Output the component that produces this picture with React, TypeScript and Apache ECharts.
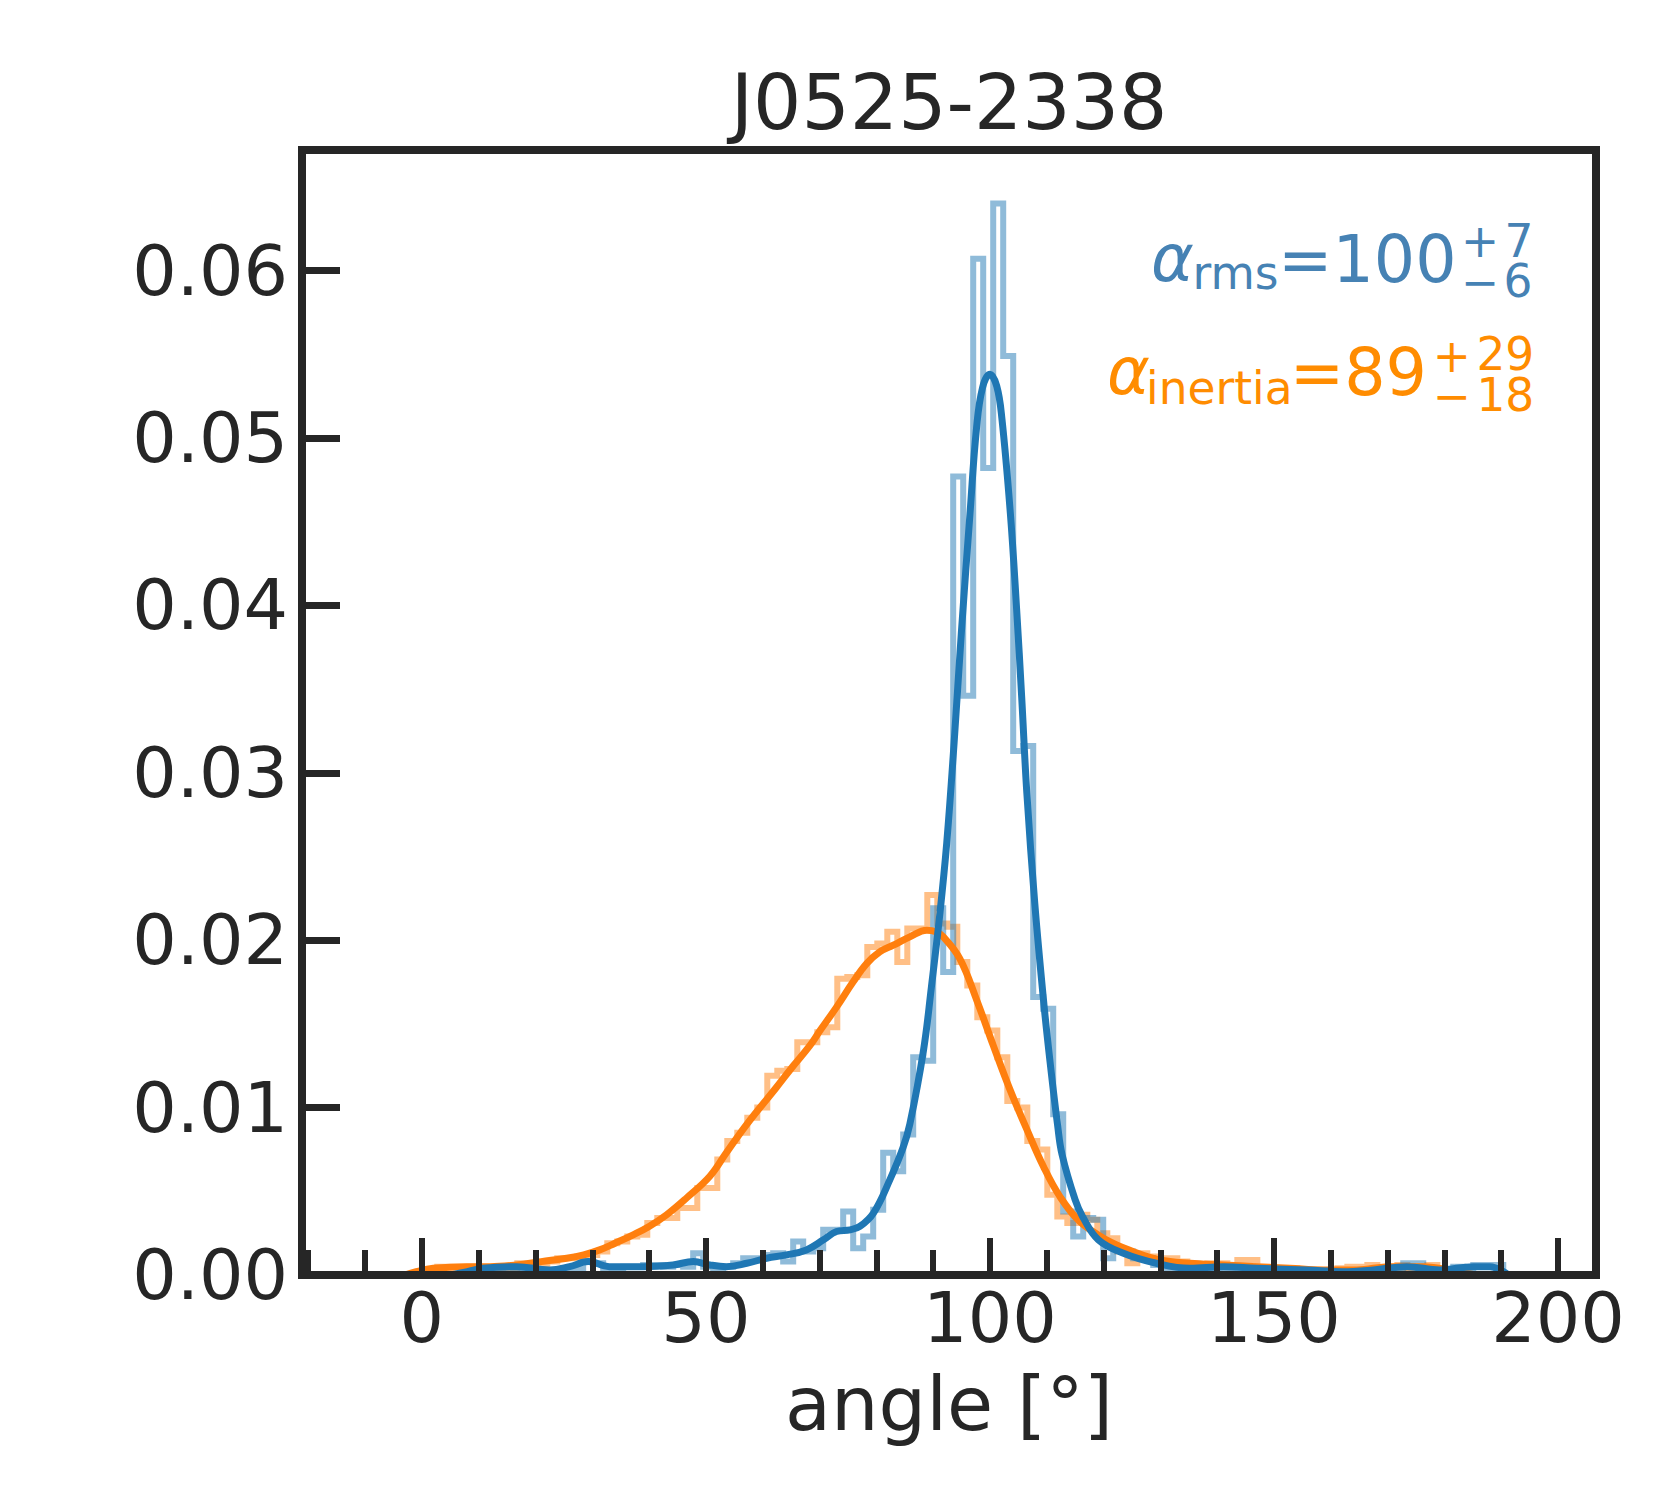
import React, { useEffect, useRef } from "react";
import * as echarts from "echarts";

const TITLE = "J0525-2338";
const X_LABEL = "angle [°]";
const X_MAJOR = [0, 50, 100, 150, 200];
const X_MINOR = [-20, -10, 10, 20, 30, 40, 60, 70, 80, 90, 110, 120, 130, 140, 160, 170, 180, 190];
const Y_TICKS = [0, 0.01, 0.02, 0.03, 0.04, 0.05, 0.06];

const BIN_WIDTH = 1.7606;

// alpha_rms histogram (density), bins of BIN_WIDTH starting at RMS_START
const RMS_START = 7.27;
const RMS_HIST = [
  0.0001, 0.0001, 0.0001, 0.0002, 0.0001, 0.0002, 0.0002, 0.0003, 0.0003, 0.0002,
  0.0004, 0.0004, 0.0008, 0.0007, 0.0003, 0.0003, 0.0005, 0.0005, 0.0006, 0.0006,
  0.0005, 0.0006, 0.0005, 0.0013, 0.0005, 0.0004, 0.0005, 0.0007, 0.001, 0.001,
  0.0012, 0.0013, 0.0008, 0.002, 0.0014, 0.0016, 0.0027, 0.0027, 0.0038, 0.0016,
  0.0023, 0.0039, 0.0073, 0.0062, 0.0084, 0.013, 0.0128, 0.0219, 0.0181,
  0.0477, 0.0346, 0.0607, 0.0482, 0.064, 0.0549, 0.0313, 0.0316, 0.0166, 0.0159, 0.0096,
  0.0038, 0.0023, 0.0034, 0.0033, 0.001, 0.0015, 0.0014, 0.001, 0.001, 0.0006,
  0.0004, 0.0003, 0.0003, 0.0003, 0.0002, 0.0002, 0.0003, 0.0001, 0.0002, 0.0001,
  0.0002, 0.0001, 0.0001, 0.0002, 0.0001, 0.0002, 0.0001, 0.0001, 0.0002, 0.0001,
  0.0001, 0.0002, 0.0002, 0.0003, 0.0007, 0.0007, 0.0002, 0.0002, 0.0003, 0.0005,
  0.0004, 0.0006, 0.0006, 0.0006,
];

// alpha_inertia histogram
const INERTIA_START = -0.81;
const INERTIA_HIST = [
  0.0001, 0.0003, 0.0005, 0.0005, 0.0005, 0.0005, 0.0004, 0.0003, 0.0003, 0.0004,
  0.0007, 0.0006, 0.0006, 0.0008, 0.001, 0.001, 0.0011, 0.0012, 0.0014, 0.0019,
  0.002, 0.0023, 0.0024, 0.0031, 0.0034, 0.0034, 0.004, 0.004, 0.0052, 0.0052,
  0.0069, 0.008, 0.0085, 0.0094, 0.01, 0.0119, 0.0122, 0.0123, 0.0139, 0.0139,
  0.0145, 0.0148, 0.0177, 0.0178, 0.0179, 0.0196, 0.0198, 0.0205, 0.0187, 0.0207,
  0.0207, 0.0227, 0.021, 0.0208, 0.0187, 0.0173, 0.0154, 0.0146, 0.013, 0.0104,
  0.01, 0.008, 0.0075, 0.0048, 0.0035, 0.0031, 0.0036, 0.0033, 0.0025, 0.0022,
  0.0014, 0.0007, 0.0013, 0.0011, 0.001, 0.001, 0.0008, 0.0006, 0.0006, 0.0007,
  0.0007, 0.0005, 0.0009, 0.0009, 0.0005, 0.0004, 0.0004, 0.0004, 0.0003, 0.0002,
  0.0002, 0.0003, 0.0004, 0.0005, 0.0005, 0.0006, 0.0003, 0.0005, 0.0006, 0.0004,
  0.0005, 0.0006,
];

// KDE curves
const RMS_KDE_X = [
  4.9, 8, 10.8, 16.7, 22.5, 26, 29.3, 33, 39, 44.2, 47.8, 50.7, 53.6, 57.2, 60.7, 64.2,
  67.7, 70.7, 73.0, 75.4, 77.1, 79.5, 82.4, 84.7, 85.9, 88.3, 89.7, 91.2, 92.4,
  93.7, 95.0, 96.5, 97.65, 98.7, 100.0, 101.2, 102.1, 103.6, 104.7, 105.6, 106.5, 107.9,
  109.5, 110.7, 111.9, 112.7, 115.0, 116.3, 119.1, 123.5, 129.3, 135.2, 141.1, 146.9,
  155.8, 162, 167.5, 173.4, 179.2, 185.1, 188, 191.3,
];
const RMS_KDE_Y = [
  0, 0.0002, 0.0004, 0.0005, 0.0003, 0.0005, 0.0008, 0.0005, 0.0005, 0.0006, 0.0008,
  0.0006, 0.0005, 0.0007, 0.001, 0.0012, 0.0015, 0.0021, 0.0026, 0.0027, 0.0029, 0.0037,
  0.0057, 0.0076, 0.009, 0.0134, 0.0172, 0.0216, 0.0258, 0.0318, 0.0385, 0.0455,
  0.0506, 0.053, 0.0538, 0.0531, 0.0512, 0.0455, 0.0398, 0.0345, 0.0288, 0.0222,
  0.0162, 0.0124, 0.009, 0.0072, 0.0045, 0.0035, 0.0021, 0.0013, 0.0007, 0.0004,
  0.0005, 0.0004, 0.0003, 0.0002, 0.0003, 0.0005, 0.0003, 0.0005, 0.0005, 0,
];
const INERTIA_KDE_X = [
  -3, -1, 2, 7.9, 12, 16.7, 21, 25.5, 28.5, 31.3, 34, 37.2, 40, 43.1, 46.6, 50.7, 53.6,
  57.2, 62.4, 65.4, 68.3, 70.1, 73.0, 75.9, 78.3, 80.6, 83.0, 85.9, 88.9, 90.5, 91.8,
  94.7, 97.7, 100.6, 103.5, 106.5, 109.4, 112.3, 115.8, 120.5, 125.2, 129.9, 135.2,
  141.1, 146.9, 152.8, 158.7, 164.6, 170.4, 176.3, 182.2, 185.5,
];
const INERTIA_KDE_Y = [
  0, 0.0002, 0.0004, 0.0005, 0.0005, 0.0006, 0.0008, 0.001, 0.0012, 0.0015, 0.0019,
  0.0024, 0.0029, 0.0036, 0.0046, 0.0059, 0.0073, 0.009, 0.0112, 0.0125, 0.0137,
  0.0146, 0.016, 0.0175, 0.0186, 0.0193, 0.0197, 0.0202, 0.0206, 0.0205, 0.0202,
  0.0189, 0.0164, 0.0137, 0.0111, 0.0087, 0.0065, 0.0047, 0.0032, 0.0021, 0.0014,
  0.0009, 0.0007, 0.0006, 0.0005, 0.0004, 0.0003, 0.0003, 0.0005, 0.0005, 0.0002, 0,
];

const BLUE = "#1f77b4";
const ORANGE = "#ff7f0e";
const BLUE_TEXT = "#4682b4";
const ORANGE_TEXT = "#ff8c00";
const INK = "#262626";
const FONT = "DejaVu Sans";

function stepPoints(start: number, width: number, vals: number[]) {
  const pts: number[][] = [[start, 0]];
  vals.forEach((v, i) => {
    const a = start + i * width;
    pts.push([a, v], [a + width, v]);
  });
  pts.push([start + vals.length * width, 0]);
  return pts;
}

function zip(xs: number[], ys: number[]) {
  return xs.map((x, i) => [x, ys[i]]);
}

function txt(text: string, x: number, y: number, size: number, color: string, align = "left", italic = false) {
  return {
    type: "text",
    x,
    y,
    z: 100,
    style: {
      text,
      fill: color,
      fontSize: size,
      fontFamily: FONT,
      fontStyle: italic ? "italic" : "normal",
      textAlign: align,
      align,
      textVerticalAlign: "middle",
      verticalAlign: "middle",
    },
  };
}

export default function App() {
  const ref = useRef<HTMLDivElement>(null);
  useEffect(() => {
    if (!ref.current) return;
    const chart = echarts.init(ref.current, null, { renderer: "svg" });
    const L = 302, T = 150, W = 1294, H = 1125;
    const F = 65, S = 45.5;
    const option: any = {
      animation: false,
      backgroundColor: "#ffffff",
      grid: { left: L, top: T, width: W, height: H, containLabel: false },
      xAxis: [
        {
          type: "value",
          min: -21.1,
          max: 206.7,
          position: "bottom",
          z: 10,
          axisLine: { show: false, onZero: false },
          splitLine: { show: false },
          axisTick: { show: true, inside: true, length: 37, lineStyle: { color: INK, width: 6 }, customValues: X_MAJOR },
          axisLabel: { show: true, customValues: X_MAJOR, fontSize: 70, color: INK, fontFamily: FONT, margin: 8 },
        },
        {
          type: "value",
          min: -21.1,
          max: 206.7,
          position: "bottom",
          z: 10,
          axisLine: { show: false, onZero: false },
          splitLine: { show: false },
          axisTick: { show: true, inside: true, length: 25, lineStyle: { color: INK, width: 6 }, customValues: X_MINOR },
          axisLabel: { show: false, customValues: X_MINOR },
        },
      ],
      yAxis: {
        type: "value",
        min: 0,
        max: 0.0672,
        position: "left",
        z: 10,
        axisLine: { show: false, onZero: false },
        splitLine: { show: false },
        axisTick: { show: true, inside: true, length: 38, lineStyle: { color: INK, width: 7 }, customValues: Y_TICKS },
        axisLabel: {
          show: true,
          customValues: Y_TICKS,
          fontSize: 70,
          color: INK,
          fontFamily: FONT,
          margin: 14,
          formatter: (v: number) => v.toFixed(2),
        },
      },
      series: [
        {
          type: "line",
          xAxisIndex: 0,
          data: stepPoints(INERTIA_START, BIN_WIDTH, INERTIA_HIST),
          showSymbol: false,
          symbol: "none",
          lineStyle: { color: ORANGE, width: 6, opacity: 0.5, join: "miter" },
          z: 2,
        },
        {
          type: "line",
          xAxisIndex: 0,
          data: stepPoints(RMS_START, BIN_WIDTH, RMS_HIST),
          showSymbol: false,
          symbol: "none",
          lineStyle: { color: BLUE, width: 6, opacity: 0.5, join: "miter" },
          z: 2,
        },
        {
          type: "line",
          xAxisIndex: 0,
          data: zip(INERTIA_KDE_X, INERTIA_KDE_Y),
          showSymbol: false,
          symbol: "none",
          smooth: 0.4,
          lineStyle: { color: ORANGE, width: 7, join: "round" },
          z: 3,
        },
        {
          type: "line",
          xAxisIndex: 0,
          data: zip(RMS_KDE_X, RMS_KDE_Y),
          showSymbol: false,
          symbol: "none",
          smooth: 0.4,
          lineStyle: { color: BLUE, width: 7, join: "round" },
          z: 3,
        },
      ],
      graphic: [
        {
          type: "rect",
          z: 90,
          shape: { x: L, y: T, width: W, height: H },
          style: { fill: "none", stroke: INK, lineWidth: 8 },
        },
        txt(TITLE, L + W / 2, 102, 76, INK, "center"),
        txt(X_LABEL, L + W / 2, 1404, 75, INK, "center"),
        // alpha_rms = 100 +7 -6
        txt("α", 1151, 258.5, F, BLUE_TEXT, "left", true),
        txt("rms", 1192.5, 273.6, S, BLUE_TEXT),
        txt("=100", 1278, 259.2, F, BLUE_TEXT),
        txt("+", 1461, 241.7, S, BLUE_TEXT),
        txt("7", 1504.4, 241.2, S, BLUE_TEXT),
        txt("−", 1461, 282.7, S, BLUE_TEXT),
        txt("6", 1503.5, 281.2, S, BLUE_TEXT),
        // alpha_inertia = 89 +29 -18
        txt("α", 1107, 371.8, F, ORANGE_TEXT, "left", true),
        txt("inertia", 1146, 388.3, S, ORANGE_TEXT),
        txt("=89", 1289.7, 372.5, F, ORANGE_TEXT),
        txt("+", 1432.7, 356.7, S, ORANGE_TEXT),
        txt("29", 1476.4, 354.3, S, ORANGE_TEXT),
        txt("−", 1432.7, 396.7, S, ORANGE_TEXT),
        txt("18", 1476.4, 395.1, S, ORANGE_TEXT),
      ],
    };
    chart.setOption(option);
    return () => chart.dispose();
  }, []);
  return (
    <div
      ref={ref}
      style={{ position: "absolute", left: 0, top: 0, width: 1680, height: 1500, background: "#fff" }}
    />
  );
}
